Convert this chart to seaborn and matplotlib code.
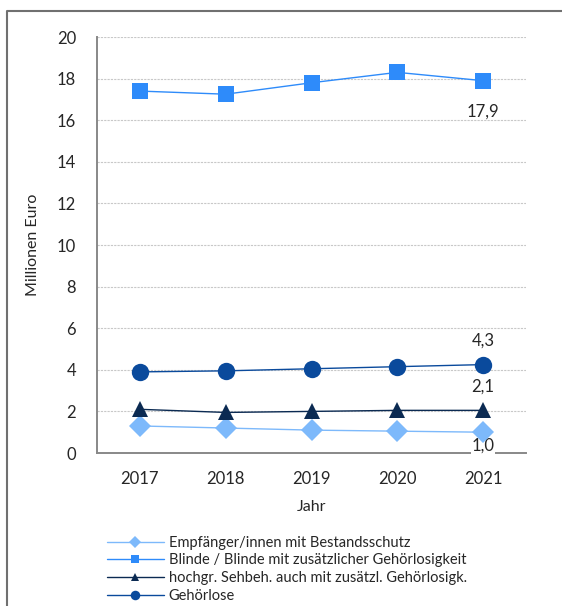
import matplotlib
matplotlib.use("Agg")
import matplotlib.pyplot as plt
import seaborn as sns
import pandas as pd
from matplotlib.lines import Line2D

years = ["2017", "2018", "2019", "2020", "2021"]
series_names = [
    "Empfänger/innen mit Bestandsschutz",
    "Blinde / Blinde mit zusätzlicher Gehörlosigkeit",
    "hochgr. Sehbeh. auch mit zusätzl. Gehörlosigk.",
    "Gehörlose",
]
bestandsschutz = [1.3, 1.2, 1.1, 1.05, 1.0]
blinde = [17.4, 17.25, 17.8, 18.3, 17.9]
sehbeh = [2.1, 1.95, 2.0, 2.05, 2.05]
gehoerlose = [3.9, 3.95, 4.05, 4.15, 4.25]
end_labels = ["1,0", "17,9", "2,1", "4,3"]
yticks = [0, 2, 4, 6, 8, 10, 12, 14, 16, 18, 20]

values = [bestandsschutz, blinde, sehbeh, gehoerlose]
colors = ["#7db9fb", "#2e8bfa", "#0b2a52", "#0a4a9c"]
markers = ["D", "s", "^", "o"]
msizes = [11, 11, 11, 12.5]

sns.set_style("white")
plt.rcParams["font.family"] = ["Lato", "DejaVu Sans"]

fig = plt.figure(figsize=(5.62, 6.06), dpi=100)
ax = fig.add_axes([97 / 562, 1 - 453 / 606, (526 - 97) / 562, (453 - 37) / 606])

xpos = list(range(len(years)))
for name, vals, c, m, ms in zip(series_names, values, colors, markers, msizes):
    df = pd.DataFrame({"x": xpos, "y": vals})
    sns.lineplot(data=df, x="x", y="y", ax=ax, color=c, marker=m, markersize=ms,
                 markeredgewidth=0, linewidth=1.0, label=name, legend=False, zorder=4)

ax.set_xlim(-0.5, len(years) - 0.5)
ax.set_ylim(0, 20)
ax.set_yticks(yticks)
ax.set_yticklabels([str(v) for v in yticks], fontsize=12)
ax.set_xticks(xpos)
ax.set_xticklabels(years, fontsize=12)
ax.set_xticks([i - 0.5 for i in range(len(years) + 1)], minor=True)
ax.tick_params(axis="x", which="major", length=0, pad=13)
ax.tick_params(axis="x", which="minor", length=6, width=1.2, color="#888888", direction="out")
ax.tick_params(axis="y", length=6, width=1.2, color="#888888", direction="out", pad=9)
ax.yaxis.grid(True, color="#c8c8c8", linestyle=(0, (2, 1)), linewidth=0.8)
ax.xaxis.grid(False)
for s in ["top", "right"]:
    ax.spines[s].set_visible(False)
for s in ["left", "bottom"]:
    ax.spines[s].set_color("#888888")
    ax.spines[s].set_linewidth(1.4)
ax.set_xlabel("Jahr", fontsize=11.5, labelpad=9)
ax.set_ylabel("Millionen Euro", fontsize=11.5, labelpad=12)

# end labels
last = len(years) - 1
ax.annotate(end_labels[1], (last, blinde[-1]), xytext=(0, -22), textcoords="offset points",
            ha="center", va="center", fontsize=12)
ax.annotate(end_labels[3], (last, gehoerlose[-1]), xytext=(0, 17), textcoords="offset points",
            ha="center", va="center", fontsize=12)
ax.annotate(end_labels[2], (last, sehbeh[-1]), xytext=(0, 17), textcoords="offset points",
            ha="center", va="center", fontsize=12)
ax.annotate(end_labels[0], (last, bestandsschutz[-1]), xytext=(0, -10), textcoords="offset points",
            ha="center", va="center", fontsize=12,
            bbox=dict(boxstyle="square,pad=0.05", fc="white", ec="none"), zorder=3,
            annotation_clip=False)

handles, labels = ax.get_legend_handles_labels()
leg = fig.legend(handles, labels, loc="upper left", bbox_to_anchor=(101 / 562, 1 - 530 / 606),
                 frameon=False, fontsize=10.5, handlelength=3.9, markerscale=0.55,
                 labelspacing=0.25, handletextpad=0.35, borderaxespad=0)

# outer frame (left and top edges)
fx = 7 / 562
fy = 1 - 11 / 606
fig.add_artist(Line2D([fx, fx, 1.05], [-0.05, fy, fy], transform=fig.transFigure,
                      color="#707070", linewidth=1.5))

fig.savefig("out.png", dpi=100)
